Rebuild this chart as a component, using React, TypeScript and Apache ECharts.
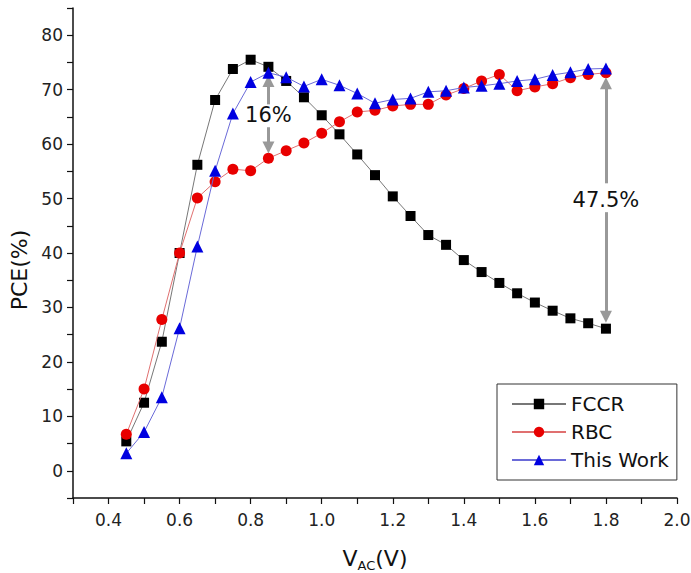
import React, { useEffect, useRef } from "react";
import * as echarts from "echarts";

const vac = [0.45, 0.5, 0.55, 0.6, 0.65, 0.7, 0.75, 0.8, 0.85, 0.9, 0.95, 1.0, 1.05, 1.1, 1.15, 1.2, 1.25, 1.3, 1.35, 1.4, 1.45, 1.5, 1.55, 1.6, 1.65, 1.7, 1.75, 1.8];
const fccr = [5.4, 12.5, 23.7, 40.0, 56.2, 68.1, 73.8, 75.5, 74.2, 71.6, 68.6, 65.3, 61.8, 58.1, 54.3, 50.4, 46.8, 43.3, 41.5, 38.7, 36.5, 34.5, 32.6, 30.9, 29.4, 28.0, 27.1, 26.1];
const rbc = [6.7, 15.0, 27.8, 40.0, 50.1, 53.1, 55.4, 55.1, 57.4, 58.8, 60.2, 62.0, 64.1, 65.9, 66.2, 67.0, 67.3, 67.3, 69.0, 70.2, 71.6, 72.8, 69.8, 70.5, 71.1, 72.2, 72.8, 73.1];
const thisWork = [3.2, 7.1, 13.5, 26.2, 41.2, 55.1, 65.6, 71.4, 73.1, 72.3, 70.6, 71.9, 70.8, 69.3, 67.5, 68.2, 68.4, 69.6, 69.8, 70.4, 70.7, 71.1, 71.6, 71.9, 72.7, 73.2, 73.8, 73.9];

// annotation arrows: [x, from, to]
const arrows = [
  [0.85, 67.3, 71.6],
  [0.85, 63.1, 59.4],
  [1.8, 52.8, 71.2],
  [1.8, 47.5, 28.3],
];
const notes = [
  { text: "16%", x: 0.85, y: 65.3 },
  { text: "47.5%", x: 1.8, y: 49.8 },
];

const FONT = "DejaVu Sans";

export default function App() {
  const ref = useRef<HTMLDivElement>(null);
  useEffect(() => {
    document.body.style.margin = "0";
    const chart = echarts.init(ref.current!, null, { renderer: "svg" });
    const mk = (arr: number[]) => vac.map((x, i) => [x, arr[i]]);
    chart.setOption({
      animation: false,
      backgroundColor: "#ffffff",
      grid: { left: 73, right: 14, top: 8, bottom: 75, containLabel: false, outerBoundsMode: "none" },
      xAxis: {
        type: "value",
        min: 0.3,
        max: 2.0,
        interval: 0.1,
        splitLine: { show: false },
        axisLine: { show: true, onZero: false, lineStyle: { color: "#111", width: 1.5 } },
        axisTick: { show: true, inside: false, length: 6, lineStyle: { color: "#111", width: 1.2 } },
        axisLabel: {
          margin: 13,
          fontSize: 17,
          fontFamily: FONT,
          color: "#222",
          showMinLabel: true,
          showMaxLabel: true,
          formatter: (v: number) => {
            const k = Math.round(v * 10);
            return k % 2 === 0 ? (k / 10).toFixed(1) : "";
          },
        },
        name: "{v|V}{s|AC}{v|(V)}",
        nameLocation: "middle",
        nameGap: 47,
        nameTextStyle: {
          rich: {
            v: { fontSize: 22, fontFamily: FONT, color: "#111" },
            s: { fontSize: 13, fontFamily: FONT, color: "#111", padding: [14, 0, 0, 0] },
          },
        },
      },
      yAxis: {
        type: "value",
        min: -5,
        max: 85,
        interval: 5,
        splitLine: { show: false },
        axisLine: { show: true, onZero: false, lineStyle: { color: "#111", width: 1.5 } },
        axisTick: { show: true, inside: false, length: 6, lineStyle: { color: "#111", width: 1.2 } },
        axisLabel: {
          margin: 10,
          fontSize: 17,
          fontFamily: FONT,
          color: "#222",
          formatter: (v: number) => {
            const r = Math.round(v);
            return r % 10 === 0 && r >= 0 && r <= 80 ? String(r) : "";
          },
        },
      },
      legend: {
        left: 497,
        top: 384,
        orient: "vertical",
        backgroundColor: "#fff",
        borderColor: "#333",
        borderWidth: 1,
        padding: [10, 8, 10, 14],
        itemGap: 8,
        itemWidth: 54,
        itemHeight: 13,
        textStyle: { fontSize: 20, fontFamily: FONT, color: "#111" },
        data: ["FCCR", "RBC", "This Work"],
      },
      graphic: [
        {
          type: "text",
          x: 19,
          y: 270,
          rotation: Math.PI / 2,
          style: { text: "PCE(%)", fontSize: 22, fontFamily: FONT, fill: "#111", align: "center", verticalAlign: "middle" },
        },
      ],
      series: [
        {
          name: "FCCR",
          type: "line",
          data: mk(fccr),
          symbol: "rect",
          symbolSize: 10,
          itemStyle: { color: "#000" },
          lineStyle: { color: "#777", width: 1 },
          z: 3,
          markLine: {
            silent: true,
            symbol: ["none", "triangle"],
            symbolSize: 12,
            lineStyle: { color: "#999", width: 3, type: "solid" },
            itemStyle: { color: "#999" },
            label: { show: false },
            data: arrows.map(([x, a, b]) => [{ coord: [x, a] }, { coord: [x, b] }]),
          },
          markPoint: {
            silent: true,
            symbol: "circle",
            symbolSize: 1,
            itemStyle: { color: "transparent" },
            label: {
              show: true,
              position: "inside",
              fontSize: 21,
              fontFamily: FONT,
              color: "#111",
              formatter: (p: any) => p.name,
            },
            data: notes.map((n) => ({ name: n.text, coord: [n.x, n.y] })),
          },
        },
        {
          name: "RBC",
          type: "line",
          data: mk(rbc),
          symbol: "circle",
          symbolSize: 11,
          itemStyle: { color: "#e80000" },
          lineStyle: { color: "#e07070", width: 1 },
          z: 4,
        },
        {
          name: "This Work",
          type: "line",
          data: mk(thisWork),
          symbol: "triangle",
          symbolSize: 12,
          itemStyle: { color: "#0000e0" },
          lineStyle: { color: "#6a6ad8", width: 1 },
          z: 5,
        },
      ],
    });
    return () => chart.dispose();
  }, []);
  return <div ref={ref} style={{ width: 691, height: 573, position: "absolute", left: 0, top: 0 }} />;
}
